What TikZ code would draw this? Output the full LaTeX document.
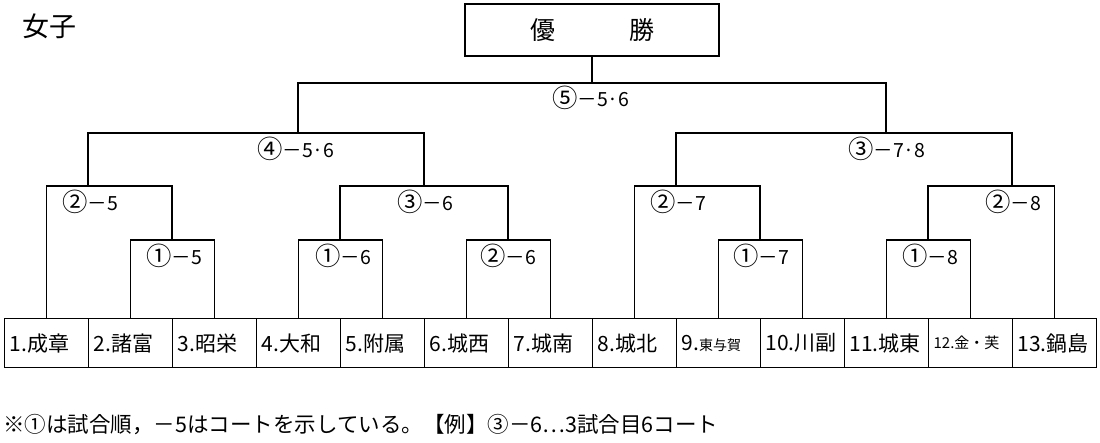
\documentclass[tikz,border=0pt]{standalone}
\usepackage{graphicx}
\usepackage{fontspec}
\setmainfont{Noto Sans CJK JP}
\usetikzlibrary{positioning}
\newcommand\maru[1]{\raisebox{-0.12ex}{\scalebox{1.3}{#1}}}

\begin{document}
\begin{tikzpicture}[x=1pt, y=-1pt,
    team/.style={draw, line width=1.2pt, anchor=north west, text width=74pt, inner xsep=5pt, inner ysep=0pt, minimum height=49pt, align=left, font=\fontsize{21}{21}\selectfont},
    line/.style={line width=1.5pt},
    court/.style={inner sep=0pt, font=\fontsize{19.5}{19.5}\selectfont}]
    \useasboundingbox (0,0) rectangle (1100,443);

    % 見出し
    \node[anchor=west, font=\fontsize{27}{27}\selectfont] (head) at (19,26) {女子};

    % 優勝
    \node[draw, line width=1.8pt, minimum width=254pt, minimum height=52pt, font=\fontsize{25}{25}\selectfont] (win) at (592,30) {優\hspace{74pt}勝};

    % 出場校
    \foreach \name [count=\k] in {1.成章, 2.諸富, 3.昭栄, 4.大和, 5.附属, 6.城西, 7.城南, 8.城北, {9.\fontsize{14}{14}\selectfont 東与賀}, 10.川副, 11.城東, {\fontsize{15}{15}\selectfont 12.金・芙}, 13.鍋島}
        \node[team] (t\k) at ({4+84*(\k-1)},318) {\name};

    % 1回戦
    \coordinate (a1) at (172,240);
    \coordinate (a2) at (340,240);
    \coordinate (a3) at (508,240);
    \coordinate (a4) at (760,240);
    \coordinate (a5) at (928,240);
    \draw[line] (t2.north) |- (a1) -| (t3.north);
    \draw[line] (t4.north) |- (a2) -| (t5.north);
    \draw[line] (t6.north) |- (a3) -| (t7.north);
    \draw[line] (t9.north) |- (a4) -| (t10.north);
    \draw[line] (t11.north) |- (a5) -| (t12.north);

    % 2回戦
    \coordinate (b1) at (110,186);
    \coordinate (b2) at (424,186);
    \coordinate (b3) at (697,186);
    \coordinate (b4) at (990,186);
    \draw[line] (t1.north) |- (b1) -| (a1);
    \draw[line] (a2) |- (b2) -| (a3);
    \draw[line] (t8.north) |- (b3) -| (a4);
    \draw[line] (a5) |- (b4) -| (t13.north);

    % 準決勝
    \coordinate (d1) at (88,186);
    \coordinate (d2) at (676,186);
    \coordinate (d3) at (1012,186);
    \coordinate (c1) at (256,133);
    \coordinate (c2) at (844,133);
    \draw[line] (d1) |- (c1) -| (b2);
    \draw[line] (d2) |- (c2) -| (d3);

    % 決勝
    \coordinate (d4) at (298,133);
    \coordinate (d5) at (886,133);
    \coordinate (top) at (592,83);
    \draw[line] (d4) |- (top) -| (d5);
    \draw[line] (win) -- (top);

    % 試合順とコート
    \node[court] (l5) at (591,98) {\maru{⑤}－5·6};
    \node[court] (l4) at (296,149) {\maru{④}－5·6};
    \node[court] (l3) at (887,149) {\maru{③}－7·8};
    \node[court] (k1) at (90,202) {\maru{②}－5};
    \node[court] (k2) at (425,202) {\maru{③}－6};
    \node[court] (k3) at (678,202) {\maru{②}－7};
    \node[court] (k4) at (1013,202) {\maru{②}－8};
    \node[court] (e1) at (174,256) {\maru{①}－5};
    \node[court] (e2) at (343,256) {\maru{①}－6};
    \node[court] (e3) at (508,256) {\maru{②}－6};
    \node[court] (e4) at (761,256) {\maru{①}－7};
    \node[court] (e5) at (930,256) {\maru{①}－8};

    % 注記
    \node[anchor=west, inner sep=0pt, font=\fontsize{21.5}{21.5}\selectfont] (note) at (3,425) {※①は試合順，－5はコートを示している。【例】③－6…3試合目6コート};
\end{tikzpicture}
\end{document}
